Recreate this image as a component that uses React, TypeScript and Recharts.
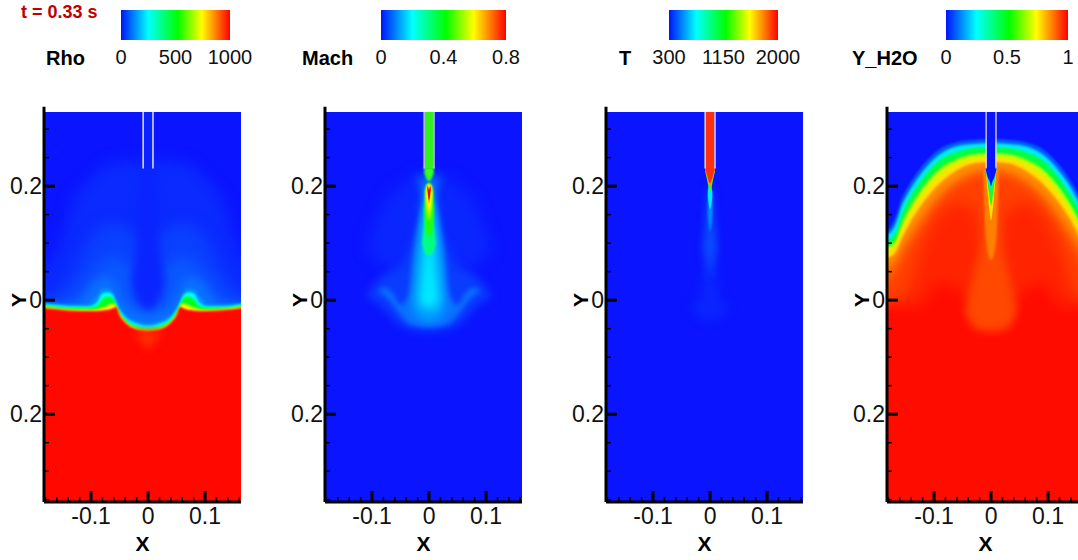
import { Area, AreaChart, ComposedChart, ReferenceArea, ReferenceLine, XAxis, YAxis } from "recharts";

const X_MIN = -0.1825;
const X_MAX = 0.163;
const Y_MIN = -0.354;
const Y_MAX = 0.33;
const FLOOR = -0.38;
const CEIL = 0.36;

const xTicks = [-0.18, -0.16, -0.14, -0.12, -0.1, -0.08, -0.06, -0.04, -0.02, 0, 0.02, 0.04, 0.06, 0.08, 0.1, 0.12, 0.14, 0.16];
const xMajor = [-0.1, 0, 0.1];
const yTicks = [0.3, 0.25, 0.2, 0.15, 0.1, 0.05, 0, -0.05, -0.1, -0.15, -0.2, -0.25, -0.3, -0.35];
const yMajor = [0.2, 0, -0.2];

const jetOffsets = [0, 0.25, 0.52, 0.74, 1];
const jetColors = ["#0014ff", "#00ffff", "#00ff00", "#ffff00", "#ff0000"];

const BLUE = "#0a14ff";
const RED = "#ff0800";

// Rho
const rhoHaloXs = [-0.21, -0.18, -0.16, -0.131, -0.1, -0.066, -0.03, 0, 0.03, 0.066, 0.1, 0.131, 0.16, 0.18, 0.21];
const rhoHalo1 = [0.04, 0.058, 0.088, 0.175, 0.215, 0.24, 0.245, 0.245, 0.245, 0.24, 0.215, 0.175, 0.088, 0.058, 0.04];
const rhoHalo2 = [-0.02, 0, 0.01, 0.05, 0.11, 0.135, 0.125, 0.11, 0.125, 0.135, 0.11, 0.05, 0.01, 0, -0.02];
const rhoHalo3 = [-0.02, -0.01, -0.005, 0.005, 0.045, 0.075, 0.06, 0.03, 0.06, 0.075, 0.045, 0.005, -0.005, -0.01, -0.02];
const rhoCoreXs = [-0.03, -0.021, -0.012, 0, 0.012, 0.021, 0.03];
const rhoCoreHigh = [0.03, 0.09, 0.235, 0.24, 0.235, 0.09, 0.03];
const rhoCoreLow = [0.03, 0, -0.01, -0.02, -0.01, 0, 0.03];
const rhoLobeXs = [-0.21, -0.125, -0.105, -0.09, -0.075, -0.06, -0.045, -0.03, 0, 0.03, 0.045, 0.06, 0.075, 0.09, 0.105, 0.125, 0.21];
const rhoLobe = [-0.012, -0.008, 0.018, 0.034, 0.04, 0.03, 0.002, -0.016, -0.026, -0.016, 0.002, 0.03, 0.04, 0.034, 0.018, -0.008, -0.012];
const rhoEdgeXs = [-0.21, -0.16, -0.137, -0.105, -0.09, -0.08, -0.07, -0.062, -0.056, -0.05, -0.04, -0.02, 0, 0.02, 0.04, 0.05, 0.056, 0.062, 0.07, 0.08, 0.09, 0.105, 0.137, 0.16, 0.21];
const rhoEdgeBlue = [-0.001, -0.006, -0.007, -0.007, 0.008, 0.02, 0.02, 0.014, 0, -0.012, -0.025, -0.036, -0.04, -0.036, -0.025, -0.012, 0, 0.014, 0.02, 0.02, 0.008, -0.007, -0.007, -0.005, 0];
const rhoEdgeCyan = [-0.004, -0.009, -0.011, -0.011, -0.004, 0.012, 0.014, 0.009, -0.004, -0.017, -0.03, -0.041, -0.045, -0.041, -0.03, -0.017, -0.004, 0.009, 0.014, 0.012, -0.004, -0.011, -0.011, -0.008, -0.003];
const rhoEdgeGreen = [-0.006, -0.011, -0.013, -0.013, -0.01, 0.002, 0.007, 0.004, -0.008, -0.021, -0.034, -0.046, -0.049, -0.046, -0.034, -0.021, -0.008, 0.004, 0.007, 0.002, -0.01, -0.013, -0.013, -0.01, -0.005];
const rhoEdgeYellow = [-0.008, -0.014, -0.016, -0.017, -0.016, -0.013, -0.009, -0.006, -0.011, -0.024, -0.037, -0.049, -0.052, -0.049, -0.037, -0.024, -0.011, -0.006, -0.009, -0.013, -0.016, -0.017, -0.015, -0.012, -0.007];
const rhoEdgeRed = [-0.01, -0.016, -0.018, -0.019, -0.019, -0.018, -0.017, -0.014, -0.012, -0.026, -0.039, -0.051, -0.054, -0.051, -0.039, -0.026, -0.012, -0.014, -0.017, -0.018, -0.019, -0.019, -0.017, -0.014, -0.009];
const rhoGlowXs = [-0.025, -0.01, 0, 0.01, 0.025];
const rhoGlowHigh = [-0.052, -0.055, -0.056, -0.055, -0.052];
const rhoGlowLow = [-0.052, -0.075, -0.085, -0.075, -0.052];

// Mach
const machOuterXs = [-0.11, -0.09, -0.07, -0.05, -0.03, 0, 0.03, 0.05, 0.07, 0.09, 0.11];
const machOuterHigh = [0.005, 0.035, 0.05, 0.06, 0.1, 0.15, 0.1, 0.06, 0.05, 0.035, 0.005];
const machOuterLow = [0.005, -0.005, -0.025, -0.045, -0.052, -0.056, -0.052, -0.045, -0.025, -0.005, 0.005];
const machDomeXs = [-0.11, -0.08, -0.05, -0.02, 0, 0.02, 0.05, 0.08, 0.11];
const machDomeHigh = [0.09, 0.17, 0.2, 0.22, 0.22, 0.22, 0.2, 0.17, 0.09];
const machDomeLow = [0.09, 0.06, 0.05, 0.05, 0.05, 0.05, 0.05, 0.06, 0.09];
const machArcXs = [-0.09, -0.08, -0.065, -0.05, -0.035, -0.025, -0.012, 0, 0.012, 0.025, 0.035, 0.05, 0.065, 0.08, 0.09];
const machArcHigh = [0.015, 0.022, 0.014, -0.008, 0.012, 0.09, 0.16, 0.2, 0.16, 0.09, 0.012, -0.008, 0.014, 0.022, 0.015];
const machArcLow = [0.015, 0.01, -0.006, -0.026, -0.042, -0.045, -0.047, -0.047, -0.047, -0.045, -0.042, -0.026, -0.006, 0.01, 0.015];
const machLightXs = [-0.03, -0.025, -0.018, -0.011, -0.005, 0, 0.005, 0.011, 0.018, 0.025, 0.03];
const machLightHigh = [-0.01, 0.05, 0.12, 0.17, 0.2, 0.21, 0.2, 0.17, 0.12, 0.05, -0.01];
const machLightLow = [-0.01, -0.024, -0.032, -0.036, -0.038, -0.038, -0.038, -0.036, -0.032, -0.024, -0.01];
const machCyanXs = [-0.018, -0.014, -0.009, -0.004, 0, 0.004, 0.009, 0.014, 0.018];
const machCyanHigh = [0, 0.04, 0.09, 0.14, 0.19, 0.14, 0.09, 0.04, 0];
const machCyanLow = [0, -0.008, -0.012, -0.014, -0.014, -0.014, -0.012, -0.008, 0];
const machAquaXs = [-0.012, -0.008, -0.004, 0, 0.004, 0.008, 0.012];
const machAquaHigh = [0.1, 0.14, 0.18, 0.2, 0.18, 0.14, 0.1];
const machAquaLow = [0.1, 0.085, 0.08, 0.078, 0.08, 0.085, 0.1];
const machGreenXs = [-0.009, -0.006, -0.003, 0, 0.003, 0.006, 0.009];
const machGreenHigh = [0.16, 0.185, 0.2, 0.205, 0.2, 0.185, 0.16];
const machGreenLow = [0.16, 0.125, 0.115, 0.112, 0.115, 0.125, 0.16];
const machLimeXs = [-0.007, -0.004, 0, 0.004, 0.007];
const machLimeHigh = [0.19, 0.203, 0.205, 0.203, 0.19];
const machLimeLow = [0.19, 0.155, 0.14, 0.155, 0.19];
const machYellowXs = [-0.005, -0.003, 0, 0.003, 0.005];
const machYellowHigh = [0.19, 0.2, 0.202, 0.2, 0.19];
const machYellowLow = [0.19, 0.165, 0.155, 0.165, 0.19];
const machRedXs = [-0.003, 0, 0.003];
const machOrangeHigh = [0.202, 0.198, 0.202];
const machOrangeLow = [0.195, 0.17, 0.195];
const machRedHigh = [0.2, 0.194, 0.2];
const machRedLow = [0.196, 0.176, 0.196];
const machWingXs = [-0.024, -0.012, 0, 0.012, 0.024];
const machWingHigh = [0.222, 0.216, 0.22, 0.216, 0.222];
const machWingLow = [0.222, 0.19, 0.18, 0.19, 0.222];
const machNeckXs = [-0.0085, -0.004, 0, 0.004, 0.0085];
const machNeckHigh = [0.233, 0.233, 0.233, 0.233, 0.233];
const machNeckLow = [0.222, 0.212, 0.208, 0.212, 0.222];

// T
const tFaintXs = [-0.035, -0.02, -0.006, 0, 0.006, 0.02, 0.035];
const tFaintHigh = [-0.01, 0, 0.12, 0.2, 0.12, 0, -0.01];
const tFaintLow = [-0.01, -0.03, -0.035, -0.035, -0.035, -0.03, -0.01];
const tBlueXs = [-0.012, -0.006, -0.003, 0, 0.003, 0.006, 0.012];
const tBlueHigh = [0.09, 0.15, 0.19, 0.2, 0.19, 0.15, 0.09];
const tBlueLow = [0.09, 0.07, 0.05, 0.04, 0.05, 0.07, 0.09];
const tCyanXs = [-0.004, -0.002, 0, 0.002, 0.004];
const tLightHigh = [0.17, 0.19, 0.2, 0.19, 0.17];
const tLightLow = [0.15, 0.13, 0.12, 0.13, 0.15];
const tCyanHigh = [0.19, 0.2, 0.205, 0.2, 0.19];
const tCyanLow = [0.18, 0.166, 0.16, 0.166, 0.18];
const tConeXs = [-0.0085, -0.005, -0.002, 0, 0.002, 0.005, 0.0085];
const tConeHigh = [0.233, 0.233, 0.233, 0.233, 0.233, 0.233, 0.233];
const tConeGreen = [0.225, 0.21, 0.195, 0.19, 0.195, 0.21, 0.225];
const tConeOrange = [0.228, 0.214, 0.204, 0.198, 0.204, 0.214, 0.228];
const tConeRed = [0.23, 0.218, 0.208, 0.205, 0.208, 0.218, 0.23];

// Y_H2O
const waterXs = [-0.21, -0.18, -0.166, -0.157, -0.148, -0.125, -0.09, -0.06, -0.03, -0.01, 0, 0.01, 0.03, 0.06, 0.09, 0.125, 0.148, 0.157, 0.166, 0.18, 0.21];
const waterBlue = [0.118, 0.125, 0.15, 0.178, 0.195, 0.23, 0.265, 0.277, 0.281, 0.282, 0.282, 0.282, 0.281, 0.277, 0.265, 0.23, 0.195, 0.178, 0.15, 0.125, 0.118];
const waterCyan = [0.108, 0.116, 0.137, 0.165, 0.183, 0.219, 0.256, 0.27, 0.274, 0.275, 0.275, 0.275, 0.274, 0.27, 0.256, 0.219, 0.183, 0.165, 0.137, 0.116, 0.108];
const waterGreen = [0.1, 0.105, 0.122, 0.15, 0.17, 0.207, 0.246, 0.26, 0.267, 0.268, 0.268, 0.268, 0.267, 0.26, 0.246, 0.207, 0.17, 0.15, 0.122, 0.105, 0.1];
const waterLime = [0.09, 0.094, 0.108, 0.133, 0.152, 0.19, 0.23, 0.247, 0.256, 0.257, 0.257, 0.257, 0.256, 0.247, 0.23, 0.19, 0.152, 0.133, 0.108, 0.094, 0.09];
const waterYellow = [0.082, 0.088, 0.098, 0.122, 0.141, 0.179, 0.22, 0.239, 0.249, 0.25, 0.25, 0.25, 0.249, 0.239, 0.22, 0.179, 0.141, 0.122, 0.098, 0.088, 0.082];
const waterOrange = [0.07, 0.075, 0.085, 0.106, 0.125, 0.163, 0.205, 0.228, 0.24, 0.242, 0.242, 0.242, 0.24, 0.228, 0.205, 0.163, 0.125, 0.106, 0.085, 0.075, 0.07];
const waterAmber = [0.05, 0.06, 0.07, 0.09, 0.105, 0.14, 0.185, 0.21, 0.225, 0.23, 0.23, 0.23, 0.225, 0.21, 0.185, 0.14, 0.105, 0.09, 0.07, 0.06, 0.05];
const waterRedOrange = [0.03, 0.035, 0.05, 0.07, 0.085, 0.12, 0.17, 0.2, 0.215, 0.22, 0.22, 0.22, 0.215, 0.2, 0.17, 0.12, 0.085, 0.07, 0.05, 0.035, 0.03];
const waterInner = [-0.01, -0.01, -0.005, 0, 0.01, 0.08, 0.15, 0.17, 0.16, 0.1, 0.1, 0.1, 0.16, 0.17, 0.15, 0.08, 0.01, 0, -0.005, -0.01, -0.01];
const waterDeep = [-0.01, -0.01, -0.01, -0.01, -0.01, -0.01, 0.03, 0.02, -0.02, -0.05, -0.05, -0.05, -0.02, 0.02, 0.03, -0.01, -0.01, -0.01, -0.01, -0.01, -0.01];
const waterColXs = [-0.045, -0.035, -0.025, -0.012, -0.005, 0, 0.005, 0.012, 0.025, 0.035, 0.045];
const waterColHigh = [-0.02, 0.03, 0.07, 0.14, 0.2, 0.2, 0.2, 0.14, 0.07, 0.03, -0.02];
const waterColLow = [-0.02, -0.042, -0.05, -0.053, -0.053, -0.053, -0.053, -0.053, -0.05, -0.042, -0.02];
const waterJetOuterXs = [-0.014, -0.01, -0.005, 0, 0.005, 0.01, 0.014];
const waterJetHigh = [0.233, 0.233, 0.233, 0.233, 0.233, 0.233, 0.233];
const waterJetOrange = [0.23, 0.12, 0.08, 0.07, 0.08, 0.12, 0.23];
const waterJetInnerXs = [-0.0095, -0.006, -0.002, 0, 0.002, 0.006, 0.0095];
const waterJetYellow = [0.23, 0.19, 0.15, 0.14, 0.15, 0.19, 0.23];
const waterJetGreen = [0.23, 0.205, 0.175, 0.165, 0.175, 0.205, 0.23];
const waterJetCyan = [0.23, 0.212, 0.2, 0.19, 0.2, 0.212, 0.23];
const waterJetBlue = [0.23, 0.216, 0.207, 0.2, 0.207, 0.216, 0.23];

type Layer = { rows: { x: number; band: number[] }[]; fill: string; blur?: string };

const layer = (xs: number[], high: number[], fill: string, blur?: string, low?: number[]): Layer => ({
  rows: xs.map((x, i) => ({ x, band: [low ? low[i] : FLOOR, high[i]] })),
  fill,
  blur,
});

const rhoLayers = [
  layer(rhoHaloXs, rhoHalo1, "#0a2aff", "wide"),
  layer(rhoHaloXs, rhoHalo2, "#0a40ff", "wide"),
  layer(rhoHaloXs, rhoHalo3, "#0a58ff", "wide"),
  layer(rhoCoreXs, rhoCoreHigh, "#0a24ff", "soft", rhoCoreLow),
  layer(rhoLobeXs, rhoLobe, "#0a70ff", "soft"),
  layer(rhoEdgeXs, rhoEdgeBlue, "#0090ff", "fine"),
  layer(rhoEdgeXs, rhoEdgeCyan, "#00ffff", "fine"),
  layer(rhoEdgeXs, rhoEdgeGreen, "#00ff20", "fine"),
  layer(rhoEdgeXs, rhoEdgeYellow, "#ffff00", "fine"),
  layer(rhoEdgeXs, rhoEdgeRed, RED, "fine"),
  layer(rhoGlowXs, rhoGlowHigh, "#ff3000", "soft", rhoGlowLow),
];

const machLayers = [
  layer(machDomeXs, machDomeHigh, "#0a26ff", "wide", machDomeLow),
  layer(machOuterXs, machOuterHigh, "#0a3cff", "soft", machOuterLow),
  layer(machWingXs, machWingHigh, "#0a60ff", "soft", machWingLow),
  layer(machArcXs, machArcHigh, "#0a70ff", "mid", machArcLow),
  layer(machLightXs, machLightHigh, "#00a0ff", "soft", machLightLow),
  layer(machCyanXs, machCyanHigh, "#00e8ff", "soft", machCyanLow),
  layer(machAquaXs, machAquaHigh, "#00ff80", "fine", machAquaLow),
  layer(machGreenXs, machGreenHigh, "#20ff10", "fine", machGreenLow),
  layer(machNeckXs, machNeckHigh, "#30ff20", "fine", machNeckLow),
  layer(machLimeXs, machLimeHigh, "#a0ff00", "fine", machLimeLow),
  layer(machYellowXs, machYellowHigh, "#ffff00", "fine", machYellowLow),
  layer(machRedXs, machOrangeHigh, "#ff9000", "thin", machOrangeLow),
  layer(machRedXs, machRedHigh, "#ff0000", "thin", machRedLow),
];

const tLayers = [
  layer(tFaintXs, tFaintHigh, "#0a24ff", "soft", tFaintLow),
  layer(tBlueXs, tBlueHigh, "#0a50ff", "soft", tBlueLow),
  layer(tCyanXs, tLightHigh, "#0090ff", "fine", tLightLow),
  layer(tCyanXs, tCyanHigh, "#00e8ff", "thin", tCyanLow),
  layer(tConeXs, tConeHigh, "#30ff30", "thin", tConeGreen),
  layer(tConeXs, tConeHigh, "#ff9000", "thin", tConeOrange),
  layer(tConeXs, tConeHigh, "#ff3010", "thin", tConeRed),
];

const waterLayers = [
  layer(waterXs, waterBlue, "#0060ff", "fine"),
  layer(waterXs, waterCyan, "#00e8ff", "fine"),
  layer(waterXs, waterGreen, "#00ff40", "fine"),
  layer(waterXs, waterLime, "#c0ff00", "fine"),
  layer(waterXs, waterYellow, "#ffe000", "fine"),
  layer(waterXs, waterOrange, "#ff9000", "fine"),
  layer(waterXs, waterAmber, "#ff6000", "soft"),
  layer(waterXs, waterRedOrange, "#ff4000", "soft"),
  layer(waterXs, waterInner, "#ff2400", "wide"),
  layer(waterXs, waterDeep, "#ff0c00", "wide"),
  layer(waterColXs, waterColHigh, "#ff4800", "soft", waterColLow),
  layer(waterJetOuterXs, waterJetHigh, "#ff8000", "fine", waterJetOrange),
  layer(waterJetInnerXs, waterJetHigh, "#ffe000", "thin", waterJetYellow),
  layer(waterJetInnerXs, waterJetHigh, "#20ff20", "thin", waterJetGreen),
  layer(waterJetInnerXs, waterJetHigh, "#00e8ff", "thin", waterJetCyan),
  layer(waterJetInnerXs, waterJetHigh, BLUE, "thin", waterJetBlue),
];

const backdrop = (fill: string) => layer([-0.21, 0.21], [CEIL, CEIL], fill);

function XTick({ x, y, payload }: any) {
  const major = xMajor.includes(payload.value);
  return (
    <g>
      <line x1={x} x2={x} y1={y} y2={y - (major ? 11 : 5)} stroke="#000" strokeWidth={major ? 3 : 1.5} />
      {major && (
        <text x={x} y={y + 22} textAnchor="middle" fontSize={23} fill="#111">
          {payload.value}
        </text>
      )}
    </g>
  );
}

function YTick({ x, y, payload }: any) {
  const major = yMajor.includes(payload.value);
  return (
    <g>
      <line x1={x} x2={x + (major ? 11 : 5)} y1={y} y2={y} stroke="#000" strokeWidth={major ? 3 : 1.5} />
      {major && (
        <text x={x - 2} y={y + 8} textAnchor="end" fontSize={23} fill="#111">
          {/* the source figure prints the lower tick without its minus sign */}
          {Math.abs(payload.value)}
        </text>
      )}
    </g>
  );
}

function FieldPanel({ left, base, layers, nozzle, wall }: { left: number; base: string; layers: Layer[]; nozzle: string; wall: string }) {
  const all = [backdrop(base), ...layers];
  return (
    <div style={{ position: "absolute", left, top: 0 }}>
      <ComposedChart width={270} height={560} margin={{ top: 112, right: 29, bottom: 0, left: 0 }}>
        {all.map((l, i) => (
          <Area
            key={i}
            data={l.rows}
            dataKey="band"
            type="monotone"
            fill={l.fill}
            fillOpacity={1}
            stroke="none"
            className={l.blur}
            dot={false}
            activeDot={false}
            isAnimationActive={false}
          />
        ))}
        <ReferenceArea x1={-0.0075} x2={0.0075} y1={0.231} y2={Y_MAX} fill={nozzle} fillOpacity={1} stroke="none" />
        <ReferenceArea x1={-0.0098} x2={-0.0075} y1={0.231} y2={Y_MAX} fill={wall} fillOpacity={1} stroke="none" />
        <ReferenceArea x1={0.0075} x2={0.0098} y1={0.231} y2={Y_MAX} fill={wall} fillOpacity={1} stroke="none" />
        <XAxis
          dataKey="x"
          type="number"
          domain={[X_MIN, X_MAX]}
          ticks={xTicks}
          interval={0}
          allowDataOverflow
          height={58}
          tickSize={0}
          tickMargin={0}
          tick={<XTick />}
          axisLine={false}
          label={{ value: "X", position: "insideBottom", offset: 9, fontSize: 21, fontWeight: 700, fill: "#000" }}
        />
        <YAxis
          type="number"
          domain={[Y_MIN, Y_MAX]}
          ticks={yTicks}
          interval={0}
          allowDataOverflow
          width={44}
          tickSize={0}
          tickMargin={0}
          tick={<YTick />}
          axisLine={false}
          label={{ value: "Y", angle: -90, position: "insideLeft", offset: 19, fontSize: 21, fontWeight: 700, fill: "#000" }}
        />
        <ReferenceLine
          segment={[{ x: X_MIN, y: Y_MIN }, { x: X_MIN, y: 0.339 }]}
          ifOverflow="visible"
          stroke="#000"
          strokeWidth={3}
        />
        <ReferenceLine
          segment={[{ x: X_MIN, y: Y_MIN }, { x: X_MAX, y: Y_MIN }]}
          ifOverflow="visible"
          stroke="#000"
          strokeWidth={3}
        />
      </ComposedChart>
    </div>
  );
}

function ColorBar({ id, left, right, ticks, domain }: { id: string; left: number; right: number; ticks: number[]; domain: number[] }) {
  const rows = domain.map((v) => ({ v, level: 1 }));
  return (
    <div style={{ position: "absolute", left: left - 30, top: 0 }}>
      <AreaChart width={right - left + 60} height={75} data={rows} margin={{ top: 10, right: 30, bottom: 0, left: 30 }}>
        <defs>
          <linearGradient id={id} x1="0" y1="0" x2="1" y2="0">
            {jetColors.map((c, i) => (
              <stop key={c} offset={jetOffsets[i]} stopColor={c} />
            ))}
          </linearGradient>
        </defs>
        <XAxis
          dataKey="v"
          type="number"
          domain={domain}
          ticks={ticks}
          interval={0}
          height={35}
          axisLine={false}
          tickLine={false}
          tickMargin={4}
          tick={{ fontSize: 20, fill: "#111" }}
        />
        <YAxis hide domain={[0, 1]} />
        <Area dataKey="level" type="linear" fill={`url(#${id})`} fillOpacity={1} stroke="none" dot={false} activeDot={false} isAnimationActive={false} />
      </AreaChart>
    </div>
  );
}

const titleStyle = { position: "absolute", top: 46, fontSize: 20, fontWeight: 700, lineHeight: "24px", color: "#000" } as const;

export default function App() {
  return (
    <div style={{ position: "absolute", left: 0, top: 0, width: 1078, height: 560, overflow: "hidden", background: "#fff", fontFamily: "'Liberation Sans', Arial, sans-serif" }}>
      <style>{`
        .wide path.recharts-area-area { filter: blur(7px); }
        .soft path.recharts-area-area { filter: blur(4px); }
        .mid path.recharts-area-area { filter: blur(2.5px); }
        .fine path.recharts-area-area { filter: blur(0.9px); }
        .thin path.recharts-area-area { filter: blur(0.5px); }
      `}</style>
      <div style={{ position: "absolute", left: 21, top: 0, fontSize: 18, lineHeight: "24px", fontWeight: 700, color: "#c00000" }}>t = 0.33 s</div>

      <div style={{ ...titleStyle, left: 46 }}>Rho</div>
      <ColorBar id="jetRho" left={121} right={230} domain={[0, 1000]} ticks={[0, 500, 1000]} />
      <div style={{ ...titleStyle, left: 302 }}>Mach</div>
      <ColorBar id="jetMach" left={381} right={506} domain={[0, 0.8]} ticks={[0, 0.4, 0.8]} />
      <div style={{ ...titleStyle, left: 619 }}>T</div>
      <ColorBar id="jetT" left={669} right={778} domain={[300, 2000]} ticks={[300, 1150, 2000]} />
      <div style={{ ...titleStyle, left: 852 }}>Y_H2O</div>
      <ColorBar id="jetWater" left={946} right={1068} domain={[0, 1]} ticks={[0, 0.5, 1]} />

      <FieldPanel left={0} base={BLUE} layers={rhoLayers} nozzle="#0a22ff" wall="#ffffff" />
      <FieldPanel left={281} base={BLUE} layers={machLayers} nozzle="#30f020" wall="#e0e0e8" />
      <FieldPanel left={562} base={BLUE} layers={tLayers} nozzle="#ff3010" wall="#f4f0f0" />
      <FieldPanel left={843} base={RED} layers={[layer([-0.21, 0.21], [CEIL, CEIL], BLUE), ...waterLayers]} nozzle={BLUE} wall="#d8d8ec" />
    </div>
  );
}
